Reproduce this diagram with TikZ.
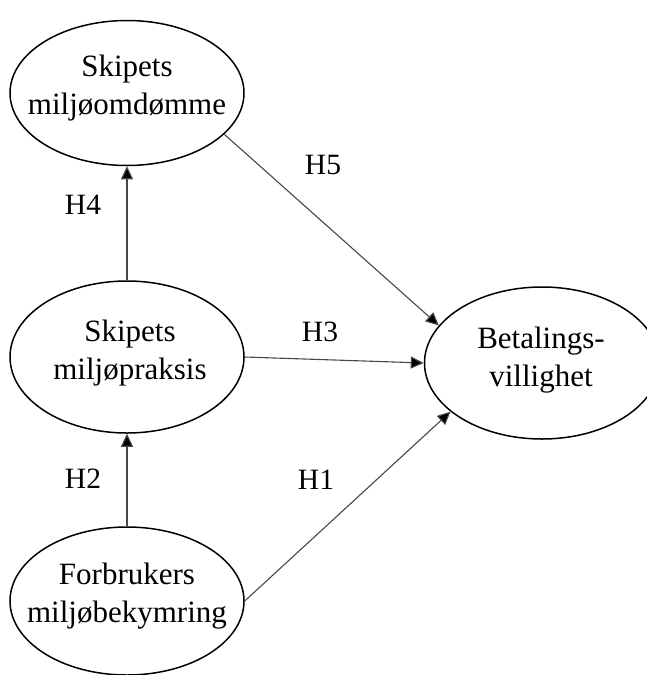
\documentclass[tikz,border=0pt]{standalone}
\usepackage{fontspec}
\setmainfont{Liberation Serif}
\usetikzlibrary{shapes.geometric,arrows.meta}

\tikzset{
  oval/.style={ellipse, draw=black, line width=1.5pt, inner sep=0pt,
               minimum width=234pt, minimum height=150pt},
  ovaltext/.style={align=center, font=\fontsize{31}{38}\selectfont, inner sep=0pt},
  hyp/.style={font=\fontsize{29.5}{34}\selectfont, inner sep=0pt},
  path/.style={draw=black!72, line width=1.1pt,
               -{Triangle[length=13pt,width=12pt,fill=black]}},
}

\begin{document}
\begin{tikzpicture}[x=1pt,y=-1pt]
  \useasboundingbox (0,0) rectangle (647,675);

  % constructs
  \node[oval, minimum height=145pt] (rep) at (127,93)  {};
  \node[oval, minimum height=152pt] (prak) at (127,357) {};
  \node[oval, minimum height=148pt] (bek) at (127,601) {};
  \node[oval, minimum width=235pt, minimum height=152pt] (bet) at (542,363) {};

  \node[ovaltext] (rep-t)  at (127,88)  {Skipets\\miljøomdømme};
  \node[ovaltext] (prak-t) at (130,353) {Skipets\\miljøpraksis};
  \node[ovaltext] (bek-t)  at (127,596) {Forbrukers\\miljøbekymring};
  \node[ovaltext] (bet-t)  at (541,360) {Betalings-\\villighet};

  % hypothesised paths
  \draw[path] (prak.north) -- (rep.south);
  \draw[path] (bek.north) -- (prak.south);
  \draw[path] (rep.-23) -- (bet.160);
  \draw[path] (prak.east) -- (bet.west);
  \draw[path] (bek.east) -- (bet.208);

  % path labels
  \node[hyp] (h4) at (83,205) {H4};
  \node[hyp] (h2) at (83,479) {H2};
  \node[hyp] (h5) at (323,165) {H5};
  \node[hyp] (h3) at (320,332) {H3};
  \node[hyp] (h1) at (316,480) {H1};
\end{tikzpicture}
\end{document}
